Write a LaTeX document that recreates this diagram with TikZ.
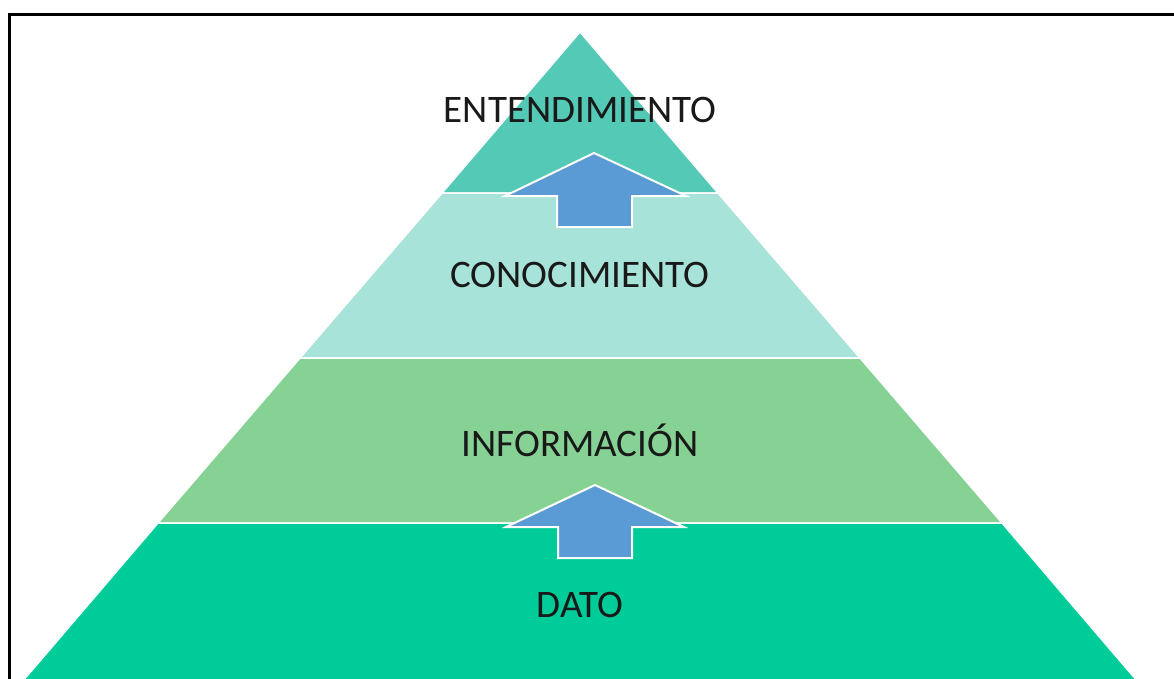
\documentclass[tikz,border=0pt]{standalone}
\usepackage{fontspec}
\setmainfont{Carlito}
\definecolor{tone}{HTML}{54C9B6}
\definecolor{ttwo}{HTML}{A7E3D9}
\definecolor{tthree}{HTML}{85D294}
\definecolor{tfour}{HTML}{00CC99}
\definecolor{arrowblue}{HTML}{5B9BD5}
\begin{document}
\begin{tikzpicture}[x=1pt,y=-1pt,
  tier/.style={draw=white,line width=1.5pt,line join=miter},
  uparrow/.style={fill=arrowblue,draw=white,line width=2pt,line join=miter},
  label/.style={font=\fontsize{39}{44}\selectfont,text=black!90,inner sep=0pt,anchor=center}]
\useasboundingbox (0,0) rectangle (1174,679);
\fill[white] (0,0) rectangle (1174,679);
\clip (0,0) rectangle (1174,679);
% tiers
\coordinate (apex) at (580,32);
\filldraw[tier,fill=tone] (apex) -- (718,193) -- (442,193) -- cycle;
\filldraw[tier,fill=ttwo] (442,193) -- (718,193) -- (860,358) -- (300,358) -- cycle;
\filldraw[tier,fill=tthree] (300,358) -- (860,358) -- (1002,523) -- (158,523) -- cycle;
\filldraw[tier,fill=tfour] (158,523) -- (1002,523) -- (1150,696) -- (10,696) -- cycle;
% labels
\node[label] (l1) at (580,110) {ENTENDIMIENTO};
\node[label] (l2) at (580,275) {CONOCIMIENTO};
\node[label] (l3) at (580,440) {INFORMACIÓN};
\node[label] (l4) at (580,605) {DATO};
% arrows
\filldraw[uparrow] (594,153) -- (686,196) -- (632,196) -- (632,227) -- (557,227) -- (557,196) -- (505,196) -- cycle;
\filldraw[uparrow] (595,485) -- (684,527) -- (632,527) -- (632,558) -- (558,558) -- (558,527) -- (506,527) -- cycle;
% frame
\draw[black,line width=3pt] (9,700) -- (9,15) -- (1190,15);
\end{tikzpicture}
\end{document}
